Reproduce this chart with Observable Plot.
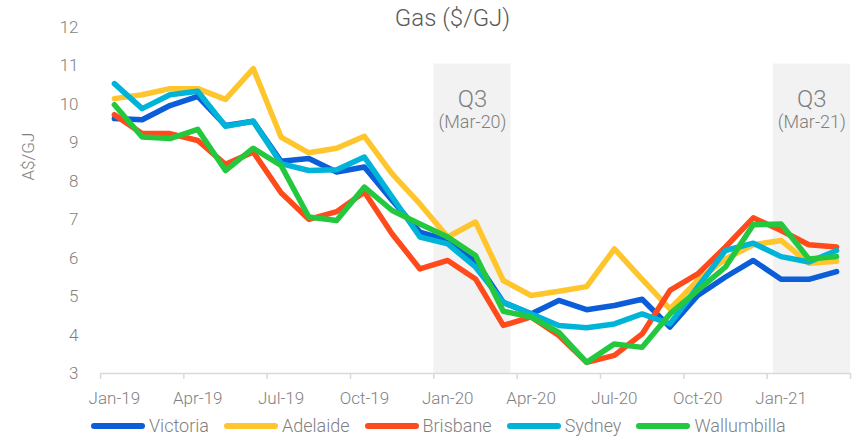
<!DOCTYPE html>
<html>
<head>
<meta charset="utf-8">
<script src="https://cdn.jsdelivr.net/npm/d3@7"></script>
<script src="https://cdn.jsdelivr.net/npm/@observablehq/plot@0.6"></script>
<style>
  html, body { margin: 0; padding: 0; background: #fff; overflow: hidden; }
  body { width: 852px; height: 439px; position: relative; font-family: Roboto, "Noto Sans", sans-serif; }
  #chart { position: absolute; left: 0; top: 0; }
  #legend { position: absolute; left: 91px; top: 415px; display: flex; align-items: center; font-size: 18px; color: #7f7f7f; font-weight: 300; }
  .item { display: flex; align-items: center; margin-right: 15px; }
  .sw { display: inline-block; width: 54px; height: 6px; border-radius: 3px; margin-right: 4px; }
</style>
</head>
<body>
<div id="chart"></div>
<div id="legend"></div>
<script>
const title = "Gas ($/GJ)";
const yLabel = "A$/GJ";
const months = ["Jan-19","Feb-19","Mar-19","Apr-19","May-19","Jun-19","Jul-19","Aug-19","Sep-19","Oct-19","Nov-19","Dec-19",
  "Jan-20","Feb-20","Mar-20","Apr-20","May-20","Jun-20","Jul-20","Aug-20","Sep-20","Oct-20","Nov-20","Dec-20",
  "Jan-21","Feb-21","Mar-21"];
const seriesNames = ["Victoria","Adelaide","Brisbane","Sydney","Wallumbilla"];
const seriesColors = ["#0b5ed7","#ffc52c","#ff4b1c","#00b4d8","#23c83f"];
const victoria    = [9.63,9.60,9.97,10.21,9.45,9.56,8.52,8.59,8.24,8.37,7.50,6.68,6.46,5.94,4.85,4.55,4.90,4.66,4.77,4.93,4.21,5.03,5.51,5.94,5.45,5.45,5.65];
const adelaide    = [10.15,10.25,10.41,10.41,10.13,10.93,9.15,8.74,8.86,9.17,8.19,7.41,6.55,6.94,5.42,5.03,5.14,5.26,6.24,5.45,4.68,5.42,5.98,6.35,6.46,5.87,5.92];
const brisbane    = [9.73,9.24,9.24,9.06,8.44,8.76,7.70,7.01,7.21,7.72,6.63,5.72,5.94,5.46,4.25,4.47,3.99,3.29,3.47,4.03,5.16,5.59,6.29,7.05,6.72,6.35,6.29];
const sydney      = [10.54,9.89,10.25,10.34,9.43,9.56,8.46,8.28,8.30,8.63,7.59,6.55,6.37,5.77,4.85,4.55,4.25,4.19,4.29,4.55,4.29,5.25,6.20,6.39,6.04,5.90,6.20];
const wallumbilla = [9.99,9.15,9.11,9.35,8.28,8.86,8.41,7.07,6.98,7.85,7.24,6.89,6.55,6.07,4.62,4.47,4.07,3.29,3.77,3.68,4.55,5.16,5.77,6.87,6.89,5.98,6.04];
const yTicks = [3,4,5,6,7,8,9,10,11,12];
const xLabelMonths = ["Jan-19","Apr-19","Jul-19","Oct-19","Jan-20","Apr-20","Jul-20","Oct-20","Jan-21"];
const shadeFrom = ["Jan-20","Jan-21"];
const shadeTo = ["Mar-20","Mar-21"];
const shadeLabel = ["Q3","Q3"];
const shadeSub = ["(Mar-20)","(Mar-21)"];
const shadeValue = 11.05;

const allSeries = [victoria, adelaide, brisbane, sydney, wallumbilla];
const rows = [];
allSeries.forEach((vals, s) => vals.forEach((v, i) => rows.push({i, v, name: seriesNames[s]})));

// shaded periods (column-like bands with slight insets as in the original)
const insets = [[0, 0.22], [0.22, 0]];
const shades = shadeFrom.map((f, k) => {
  const a = months.indexOf(f) - 0.5 + insets[k][0];
  const b = months.indexOf(shadeTo[k]) + 0.5 - insets[k][1];
  return {x1: a, x2: b, xc: (a + b) / 2, label: shadeLabel[k], sub: shadeSub[k]};
});

const n = months.length;
const boundaries = d3.range(-0.5, n, 3);
const labelIdx = xLabelMonths.map(m => months.indexOf(m));
const gray = "#7f7f7f";

const plot = Plot.plot({
  width: 852,
  height: 410,
  marginLeft: 100,
  marginRight: 2,
  marginTop: 27,
  marginBottom: 37,
  style: {fontFamily: "Roboto, 'Noto Sans', sans-serif", background: "#fff", fontWeight: 300},
  x: {type: "linear", domain: [-0.5, n - 0.5], axis: null},
  y: {domain: [3, 12], axis: null},
  color: {domain: seriesNames, range: seriesColors},
  marks: [
    Plot.rect(shades, {x1: "x1", x2: "x2", y1: 3, y2: shadeValue, fill: "#f2f2f2"}),
    Plot.text(shades, {x: "xc", y: shadeValue, text: "label", dy: 35, fontSize: 24, fill: gray, lineAnchor: "middle"}),
    Plot.text(shades, {x: "xc", y: shadeValue, text: "sub", dy: 58, fontSize: 18, fill: gray, lineAnchor: "middle", letterSpacing: 0.5}),
    Plot.axisY({ticks: yTicks, tickSize: 0, tickPadding: 22, fontSize: 17, color: gray, label: null}),
    Plot.axisX({ticks: boundaries, tickFormat: () => "", tickSize: 6, stroke: "#d9d9d9", strokeWidth: 1.5, label: null}),
    Plot.axisX({ticks: labelIdx, tickFormat: d => months[d], tickSize: 0, tickPadding: 18, fontSize: 17, color: gray, label: null}),
    Plot.ruleY([3], {stroke: "#d9d9d9", strokeWidth: 1.5}),
    Plot.line(rows, {x: "i", y: "v", z: "name", stroke: "name", strokeWidth: 5.5, strokeLinejoin: "round", strokeLinecap: "round"}),
    Plot.text([title], {frameAnchor: "top", dx: -23, dy: -9, lineAnchor: "middle", fontSize: 24, fill: "#595959", letterSpacing: 1.2}),
    Plot.text([yLabel], {frameAnchor: "left", dx: -72, dy: -20, rotate: -90, lineAnchor: "middle", fontSize: 17, fill: gray})
  ]
});
document.getElementById("chart").appendChild(plot);

const legend = document.getElementById("legend");
seriesNames.forEach((name, k) => {
  const it = document.createElement("div");
  it.className = "item";
  const sw = document.createElement("span");
  sw.className = "sw";
  sw.style.background = seriesColors[k];
  const tx = document.createElement("span");
  tx.textContent = name;
  it.appendChild(sw);
  it.appendChild(tx);
  legend.appendChild(it);
});
</script>
</body>
</html>
